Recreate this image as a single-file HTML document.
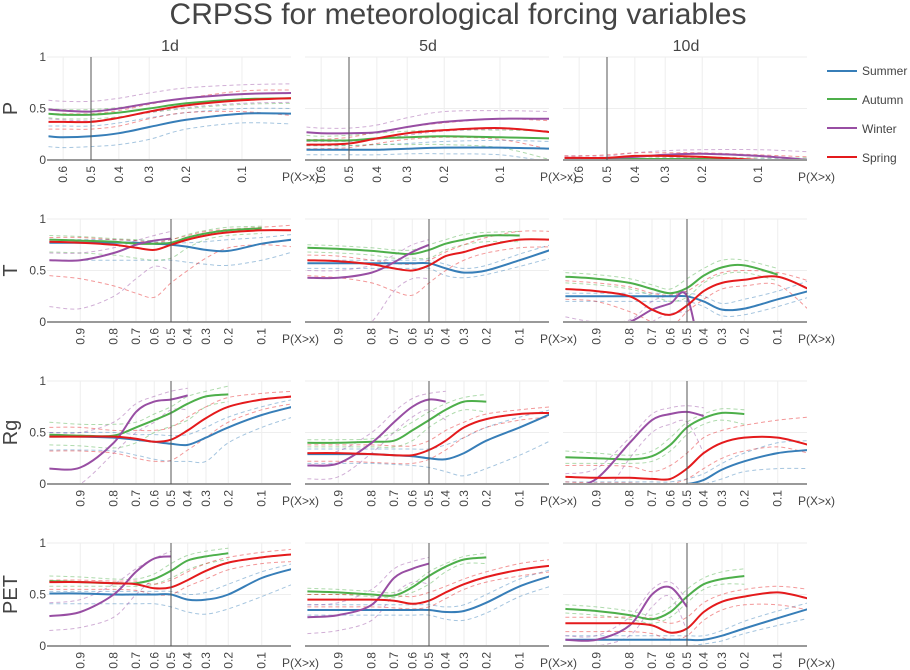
<!DOCTYPE html>
<html><head><meta charset="utf-8"><style>
html,body{margin:0;padding:0;background:#fff;}
svg{display:block;font-family:"Liberation Sans",sans-serif;}
</style></head><body>
<svg id="chart" width="910" height="670" viewBox="0 0 910 670">
<text x="458" y="24" text-anchor="middle" font-size="30" fill="#444">CRPSS for meteorological forcing variables</text>
<g id="panels"></g>
<g>
 <g><line x1="827" y1="71" x2="857" y2="71" stroke="#377eb8" stroke-width="2"/><text x="862" y="75" font-size="12" fill="#444">Summer</text></g>
 <g><line x1="827" y1="99" x2="857" y2="99" stroke="#4daf4a" stroke-width="2"/><text x="862" y="104" font-size="12" fill="#444">Autumn</text></g>
 <g><line x1="827" y1="128" x2="857" y2="128" stroke="#984ea3" stroke-width="2"/><text x="862" y="133" font-size="12" fill="#444">Winter</text></g>
 <g><line x1="827" y1="157" x2="857" y2="157" stroke="#e41a1c" stroke-width="2"/><text x="862" y="162" font-size="12" fill="#444">Spring</text></g>
</g>
</svg>
<script>
// x grids (exceedance probabilities)
const gridP = [0.65,0.6,0.5,0.4,0.3,0.2,0.1,0.05];
const gridG = [0.95,0.9,0.8,0.7,0.6,0.5,0.4,0.3,0.2,0.1,0.05];
const ticksP = [0.6,0.5,0.4,0.3,0.2,0.1];
const ticksG = [0.9,0.8,0.7,0.6,0.5,0.4,0.3,0.2,0.1];
const yTicks = [0,0.5,1];
const rowNames = ["P","T","Rg","PET"];
const colNames = ["1d","5d","10d"];
const N = null;

// P 1d
const P1_sum = [0.23,0.22,0.23,0.26,0.32,0.39,0.45,0.45];
const P1_sum_lo = [0.13,0.12,0.13,0.15,0.2,0.3,0.36,0.35];
const P1_sum_hi = [0.33,0.33,0.33,0.36,0.41,0.46,0.5,0.5];
const P1_aut = [0.45,0.44,0.44,0.46,0.5,0.55,0.59,0.6];
const P1_aut_lo = [0.41,0.4,0.4,0.42,0.46,0.5,0.54,0.55];
const P1_aut_hi = [0.5,0.49,0.49,0.51,0.55,0.6,0.64,0.65];
const P1_win = [0.49,0.48,0.47,0.5,0.55,0.6,0.64,0.65];
const P1_win_lo = [0.4,0.39,0.38,0.41,0.46,0.51,0.55,0.56];
const P1_win_hi = [0.58,0.57,0.57,0.6,0.65,0.7,0.73,0.74];
const P1_spr = [0.37,0.37,0.37,0.41,0.47,0.53,0.58,0.6];
const P1_spr_lo = [0.3,0.3,0.3,0.33,0.4,0.46,0.47,0.43];
const P1_spr_hi = [0.45,0.45,0.45,0.48,0.54,0.6,0.67,0.68];
// P 5d
const P5_sum = [0.1,0.1,0.1,0.1,0.11,0.12,0.12,0.11];
const P5_sum_lo = [0.05,0.05,0.05,0.05,0.06,0.06,0.05,-0.02];
const P5_sum_hi = [0.14,0.14,0.14,0.15,0.16,0.18,0.19,0.18];
const P5_aut = [0.19,0.19,0.19,0.21,0.22,0.23,0.22,0.21];
const P5_aut_lo = [0.14,0.14,0.14,0.15,0.15,0.15,0.12,0.0];
const P5_aut_hi = [0.24,0.23,0.24,0.26,0.28,0.29,0.29,0.28];
const P5_win = [0.27,0.26,0.26,0.27,0.32,0.37,0.4,0.4];
const P5_win_lo = [0.18,0.18,0.18,0.2,0.24,0.28,0.3,0.28];
const P5_win_hi = [0.32,0.31,0.31,0.34,0.41,0.47,0.48,0.47];
const P5_spr = [0.15,0.15,0.16,0.21,0.26,0.29,0.31,0.27];
const P5_spr_lo = [0.11,0.11,0.12,0.16,0.2,0.22,0.2,0.1];
const P5_spr_hi = [0.2,0.2,0.22,0.27,0.32,0.36,0.4,0.38];
// P 10d
const P10_sum = [0.0,0.0,0.0,0.0,0.0,0.0,0.0,0.0];
const P10_sum_lo = [-0.03,-0.03,-0.03,-0.03,-0.03,-0.03,-0.03,-0.03];
const P10_sum_hi = [0.01,0.01,0.01,0.01,0.01,0.01,0.01,0.01];
const P10_aut = [0.01,0.01,0.01,0.01,0.01,0.01,0.0,0.0];
const P10_aut_lo = [-0.02,-0.02,-0.02,-0.02,-0.02,-0.02,-0.03,-0.03];
const P10_aut_hi = [0.02,0.02,0.02,0.03,0.03,0.03,0.02,0.02];
const P10_win = [0.02,0.02,0.02,0.03,0.05,0.06,0.04,0.0];
const P10_win_lo = [0.0,0.0,0.0,0.01,0.02,0.02,0.0,-0.05];
const P10_win_hi = [0.04,0.04,0.04,0.07,0.09,0.1,0.1,0.08];
const P10_spr = [0.02,0.02,0.02,0.04,0.04,0.03,0.0,-0.03];
const P10_spr_lo = [0.0,0.0,0.0,0.01,0.01,0.0,-0.04,-0.08];
const P10_spr_hi = [0.04,0.04,0.05,0.07,0.07,0.07,0.05,0.03];
// T 1d
const T1_sum = [0.77,0.77,0.77,0.77,0.76,0.75,0.73,0.7,0.69,0.76,0.8];
const T1_sum_lo = [0.6,0.6,0.6,0.6,0.6,0.6,0.58,0.56,0.55,0.6,0.68];
const T1_sum_hi = [0.8,0.8,0.8,0.79,0.78,0.77,0.77,0.78,0.8,0.82,0.85];
const T1_aut = [0.8,0.79,0.78,0.76,0.76,0.77,0.82,0.86,0.89,0.91,N];
const T1_aut_lo = [0.68,0.67,0.65,0.62,0.6,0.62,0.72,0.8,0.84,0.86,N];
const T1_aut_hi = [0.84,0.83,0.81,0.8,0.79,0.8,0.85,0.89,0.92,0.93,N];
const T1_win = [0.6,0.6,0.67,0.75,0.79,0.81,N,N,N,N,N];
const T1_win_lo = [0.15,0.13,0.25,0.42,0.54,0.5,N,N,N,N,N];
const T1_win_hi = [0.67,0.67,0.72,0.79,0.84,0.88,N,N,N,N,N];
const T1_spr = [0.78,0.77,0.75,0.72,0.7,0.75,0.8,0.84,0.87,0.89,0.89];
const T1_spr_lo = [0.45,0.42,0.35,0.28,0.24,0.38,0.5,0.62,0.72,0.75,0.73];
const T1_spr_hi = [0.82,0.82,0.8,0.79,0.77,0.8,0.84,0.88,0.9,0.92,0.94];
// T 5d
const T5_sum = [0.57,0.57,0.57,0.57,0.57,0.57,0.52,0.48,0.5,0.6,0.7];
const T5_sum_lo = [0.52,0.52,0.52,0.52,0.52,0.52,0.45,0.43,0.46,0.54,0.62];
const T5_sum_hi = [0.6,0.6,0.6,0.6,0.6,0.6,0.56,0.52,0.55,0.66,0.75];
const T5_aut = [0.72,0.71,0.69,0.67,0.66,0.7,0.76,0.8,0.84,0.84,N];
const T5_aut_lo = [0.68,0.67,0.65,0.62,0.62,0.62,0.7,0.75,0.78,0.78,N];
const T5_aut_hi = [0.75,0.74,0.72,0.7,0.7,0.75,0.8,0.85,0.87,0.88,N];
const T5_win = [0.43,0.43,0.48,0.58,0.68,0.75,N,N,N,N,N];
const T5_win_lo = [-0.5,-0.3,0.0,0.3,0.42,0.42,N,N,N,N,N];
const T5_win_hi = [0.5,0.5,0.55,0.65,0.75,0.8,N,N,N,N,N];
const T5_spr = [0.6,0.59,0.56,0.52,0.5,0.55,0.64,0.68,0.74,0.8,0.8];
const T5_spr_lo = [0.45,0.43,0.38,0.3,0.26,0.38,0.5,0.6,0.67,0.72,0.73];
const T5_spr_hi = [0.65,0.64,0.6,0.57,0.56,0.6,0.68,0.75,0.82,0.88,0.88];
// T 10d
const T10_sum = [0.25,0.25,0.25,0.25,0.25,0.25,0.2,0.12,0.13,0.22,0.3];
const T10_sum_lo = [0.2,0.2,0.2,0.2,0.2,0.2,0.15,0.06,0.07,0.15,0.24];
const T10_sum_hi = [0.28,0.28,0.28,0.28,0.28,0.28,0.25,0.18,0.22,0.3,0.4];
const T10_aut = [0.44,0.42,0.38,0.32,0.28,0.33,0.45,0.53,0.55,0.46,N];
const T10_aut_lo = [0.38,0.36,0.32,0.26,0.2,0.24,0.38,0.46,0.48,0.4,N];
const T10_aut_hi = [0.48,0.46,0.42,0.36,0.32,0.42,0.52,0.6,0.6,0.52,N];
const T10_win = [-0.2,-0.1,0.0,0.12,0.18,0.25,-0.5,N,N,N,N];
const T10_win_lo = [-0.4,-0.3,-0.2,0.0,0.08,0.1,N,N,N,N,N];
const T10_win_hi = [0.05,0.0,0.02,0.2,0.26,0.3,N,N,N,N,N];
const T10_spr = [0.32,0.3,0.25,0.12,0.07,0.16,0.3,0.38,0.41,0.44,0.32];
const T10_spr_lo = [0.22,0.2,0.1,0.0,-0.05,0.1,0.22,0.32,0.35,0.36,0.12];
const T10_spr_hi = [0.4,0.38,0.34,0.28,0.26,0.3,0.4,0.48,0.5,0.48,0.4];
// Rg 1d
const R1_sum = [0.46,0.46,0.45,0.43,0.41,0.39,0.38,0.45,0.55,0.67,0.75];
const R1_sum_lo = [0.33,0.33,0.32,0.28,0.24,0.22,0.22,0.22,0.4,0.55,0.65];
const R1_sum_hi = [0.5,0.5,0.5,0.48,0.48,0.47,0.48,0.55,0.65,0.75,0.82];
const R1_aut = [0.48,0.47,0.47,0.55,0.62,0.69,0.78,0.85,0.87,N,N];
const R1_aut_lo = [0.38,0.37,0.35,0.4,0.5,0.56,0.62,0.75,0.8,N,N];
const R1_aut_hi = [0.6,0.58,0.58,0.6,0.68,0.75,0.85,0.9,0.95,N,N];
const R1_win = [0.15,0.16,0.4,0.7,0.8,0.82,0.86,N,N,N,N];
const R1_win_lo = [-0.1,0.0,0.3,0.5,0.6,0.72,0.72,N,N,N,N];
const R1_win_hi = [0.5,0.5,0.6,0.78,0.85,0.9,0.93,N,N,N,N];
const R1_spr = [0.46,0.46,0.46,0.44,0.41,0.43,0.52,0.64,0.75,0.82,0.85];
const R1_spr_lo = [0.32,0.32,0.3,0.25,0.22,0.23,0.33,0.45,0.6,0.72,0.78];
const R1_spr_hi = [0.55,0.55,0.52,0.52,0.52,0.55,0.65,0.75,0.84,0.88,0.9];
// Rg 5d
const R5_sum = [0.29,0.29,0.29,0.28,0.27,0.25,0.24,0.3,0.42,0.55,0.68];
const R5_sum_lo = [0.2,0.2,0.2,0.19,0.18,0.16,0.12,0.08,0.15,0.28,0.42];
const R5_sum_hi = [0.34,0.34,0.34,0.34,0.34,0.34,0.38,0.45,0.55,0.65,0.72];
const R5_aut = [0.4,0.4,0.41,0.42,0.52,0.62,0.72,0.8,0.8,N,N];
const R5_aut_lo = [0.36,0.36,0.36,0.36,0.42,0.55,0.65,0.72,0.7,N,N];
const R5_aut_hi = [0.43,0.43,0.44,0.5,0.6,0.7,0.78,0.84,0.87,N,N];
const R5_win = [0.18,0.2,0.4,0.6,0.75,0.82,0.8,N,N,N,N];
const R5_win_lo = [0.05,0.07,0.3,0.5,0.65,0.72,0.62,N,N,N,N];
const R5_win_hi = [0.3,0.32,0.5,0.7,0.83,0.88,0.9,N,N,N,N];
const R5_spr = [0.3,0.3,0.29,0.28,0.28,0.33,0.42,0.55,0.63,0.68,0.69];
const R5_spr_lo = [0.22,0.22,0.21,0.2,0.2,0.24,0.33,0.45,0.55,0.62,0.65];
const R5_spr_hi = [0.38,0.38,0.38,0.37,0.37,0.42,0.52,0.6,0.68,0.72,0.75];
// Rg 10d
const R10_sum = [0.0,0.0,0.0,0.0,0.0,0.0,0.04,0.14,0.22,0.3,0.33];
const R10_sum_lo = [-0.02,-0.02,-0.02,-0.02,-0.02,-0.02,0.0,0.05,0.12,0.15,0.15];
const R10_sum_hi = [0.02,0.02,0.02,0.02,0.02,0.05,0.1,0.2,0.3,0.4,0.42];
const R10_aut = [0.26,0.25,0.24,0.27,0.38,0.55,0.64,0.69,0.68,N,N];
const R10_aut_lo = [0.2,0.2,0.2,0.22,0.32,0.48,0.58,0.62,0.58,N,N];
const R10_aut_hi = [0.32,0.3,0.28,0.32,0.45,0.6,0.68,0.73,0.72,N,N];
const R10_win = [-0.05,0.05,0.4,0.62,0.68,0.7,0.66,N,N,N,N];
const R10_win_lo = [-0.3,-0.2,0.25,0.5,0.58,0.6,0.3,N,N,N,N];
const R10_win_hi = [0.1,0.15,0.45,0.68,0.74,0.76,0.74,N,N,N,N];
const R10_spr = [0.07,0.06,0.06,0.05,0.05,0.15,0.3,0.4,0.45,0.45,0.38];
const R10_spr_lo = [0.02,0.01,0.01,0.0,0.0,0.05,0.15,0.25,0.32,0.36,0.3];
const R10_spr_hi = [0.18,0.18,0.17,0.12,0.18,0.3,0.45,0.52,0.57,0.62,0.65];
// PET 1d
const E1_sum = [0.51,0.51,0.5,0.5,0.5,0.5,0.45,0.45,0.5,0.66,0.75];
const E1_sum_lo = [0.41,0.41,0.41,0.41,0.41,0.38,0.33,0.31,0.36,0.48,0.6];
const E1_sum_hi = [0.53,0.53,0.53,0.53,0.53,0.53,0.5,0.52,0.6,0.72,0.8];
const E1_aut = [0.63,0.62,0.61,0.61,0.65,0.73,0.83,0.87,0.9,N,N];
const E1_aut_lo = [0.58,0.58,0.58,0.58,0.6,0.66,0.74,0.8,0.84,N,N];
const E1_aut_hi = [0.68,0.67,0.65,0.65,0.7,0.8,0.88,0.92,0.95,N,N];
const E1_win = [0.29,0.33,0.5,0.72,0.85,0.87,N,N,N,N,N];
const E1_win_lo = [0.15,0.18,0.28,0.5,0.65,0.72,N,N,N,N,N];
const E1_win_hi = [0.42,0.45,0.6,0.75,0.85,0.92,N,N,N,N,N];
const E1_spr = [0.62,0.62,0.61,0.6,0.56,0.57,0.64,0.73,0.81,0.86,0.89];
const E1_spr_lo = [0.55,0.55,0.55,0.54,0.5,0.5,0.58,0.65,0.74,0.8,0.82];
const E1_spr_hi = [0.64,0.64,0.63,0.63,0.6,0.64,0.72,0.8,0.86,0.91,0.94];
// PET 5d
const E5_sum = [0.35,0.35,0.35,0.35,0.35,0.35,0.33,0.34,0.42,0.58,0.68];
const E5_sum_lo = [0.3,0.3,0.3,0.3,0.3,0.3,0.26,0.25,0.32,0.48,0.58];
const E5_sum_hi = [0.4,0.4,0.4,0.4,0.4,0.4,0.38,0.4,0.5,0.65,0.74];
const E5_aut = [0.53,0.52,0.5,0.49,0.57,0.68,0.77,0.84,0.86,N,N];
const E5_aut_lo = [0.5,0.5,0.48,0.47,0.52,0.6,0.72,0.8,0.8,N,N];
const E5_aut_hi = [0.56,0.55,0.53,0.52,0.6,0.72,0.8,0.87,0.9,N,N];
const E5_win = [0.28,0.3,0.4,0.66,0.75,0.8,N,N,N,N,N];
const E5_win_lo = [0.12,0.15,0.25,0.5,0.62,0.6,N,N,N,N,N];
const E5_win_hi = [0.4,0.42,0.55,0.75,0.82,0.86,N,N,N,N,N];
const E5_spr = [0.45,0.45,0.45,0.44,0.41,0.44,0.52,0.6,0.67,0.74,0.78];
const E5_spr_lo = [0.38,0.38,0.38,0.37,0.36,0.38,0.46,0.55,0.62,0.68,0.72];
const E5_spr_hi = [0.5,0.5,0.5,0.49,0.48,0.52,0.58,0.65,0.72,0.8,0.84];
// PET 10d
const E10_sum = [0.06,0.06,0.06,0.06,0.06,0.06,0.06,0.1,0.17,0.27,0.36];
const E10_sum_lo = [0.0,0.0,0.0,0.0,0.0,0.0,0.02,0.05,0.12,0.2,0.27];
const E10_sum_hi = [0.1,0.1,0.1,0.1,0.1,0.1,0.1,0.15,0.24,0.34,0.42];
const E10_aut = [0.36,0.34,0.3,0.26,0.33,0.48,0.6,0.65,0.68,N,N];
const E10_aut_lo = [0.32,0.3,0.26,0.22,0.28,0.42,0.55,0.6,0.6,N,N];
const E10_aut_hi = [0.4,0.38,0.34,0.3,0.38,0.55,0.66,0.72,0.75,N,N];
const E10_win = [0.06,0.06,0.2,0.5,0.57,0.38,N,N,N,N,N];
const E10_win_lo = [0.0,0.0,0.1,0.38,0.48,0.15,N,N,N,N,N];
const E10_win_hi = [0.1,0.1,0.28,0.55,0.62,0.45,N,N,N,N,N];
const E10_spr = [0.22,0.22,0.22,0.2,0.13,0.17,0.33,0.43,0.48,0.52,0.46];
const E10_spr_lo = [0.14,0.14,0.14,0.12,0.06,0.1,0.25,0.35,0.4,0.4,0.35];
const E10_spr_hi = [0.28,0.28,0.28,0.27,0.22,0.28,0.42,0.5,0.55,0.58,0.55];

const COLORS = {sum:"#377eb8",aut:"#4daf4a",win:"#984ea3",spr:"#e41a1c"};
const NAMES = {sum:"summer",aut:"autumn",win:"winter",spr:"spring"};
const panels = [
 [{sum:[P1_sum,P1_sum_lo,P1_sum_hi],aut:[P1_aut,P1_aut_lo,P1_aut_hi],win:[P1_win,P1_win_lo,P1_win_hi],spr:[P1_spr,P1_spr_lo,P1_spr_hi]},
  {sum:[P5_sum,P5_sum_lo,P5_sum_hi],aut:[P5_aut,P5_aut_lo,P5_aut_hi],win:[P5_win,P5_win_lo,P5_win_hi],spr:[P5_spr,P5_spr_lo,P5_spr_hi]},
  {sum:[P10_sum,P10_sum_lo,P10_sum_hi],aut:[P10_aut,P10_aut_lo,P10_aut_hi],win:[P10_win,P10_win_lo,P10_win_hi],spr:[P10_spr,P10_spr_lo,P10_spr_hi]}],
 [{sum:[T1_sum,T1_sum_lo,T1_sum_hi],aut:[T1_aut,T1_aut_lo,T1_aut_hi],win:[T1_win,T1_win_lo,T1_win_hi],spr:[T1_spr,T1_spr_lo,T1_spr_hi]},
  {sum:[T5_sum,T5_sum_lo,T5_sum_hi],aut:[T5_aut,T5_aut_lo,T5_aut_hi],win:[T5_win,T5_win_lo,T5_win_hi],spr:[T5_spr,T5_spr_lo,T5_spr_hi]},
  {sum:[T10_sum,T10_sum_lo,T10_sum_hi],aut:[T10_aut,T10_aut_lo,T10_aut_hi],win:[T10_win,T10_win_lo,T10_win_hi],spr:[T10_spr,T10_spr_lo,T10_spr_hi]}],
 [{sum:[R1_sum,R1_sum_lo,R1_sum_hi],aut:[R1_aut,R1_aut_lo,R1_aut_hi],win:[R1_win,R1_win_lo,R1_win_hi],spr:[R1_spr,R1_spr_lo,R1_spr_hi]},
  {sum:[R5_sum,R5_sum_lo,R5_sum_hi],aut:[R5_aut,R5_aut_lo,R5_aut_hi],win:[R5_win,R5_win_lo,R5_win_hi],spr:[R5_spr,R5_spr_lo,R5_spr_hi]},
  {sum:[R10_sum,R10_sum_lo,R10_sum_hi],aut:[R10_aut,R10_aut_lo,R10_aut_hi],win:[R10_win,R10_win_lo,R10_win_hi],spr:[R10_spr,R10_spr_lo,R10_spr_hi]}],
 [{sum:[E1_sum,E1_sum_lo,E1_sum_hi],aut:[E1_aut,E1_aut_lo,E1_aut_hi],win:[E1_win,E1_win_lo,E1_win_hi],spr:[E1_spr,E1_spr_lo,E1_spr_hi]},
  {sum:[E5_sum,E5_sum_lo,E5_sum_hi],aut:[E5_aut,E5_aut_lo,E5_aut_hi],win:[E5_win,E5_win_lo,E5_win_hi],spr:[E5_spr,E5_spr_lo,E5_spr_hi]},
  {sum:[E10_sum,E10_sum_lo,E10_sum_hi],aut:[E10_aut,E10_aut_lo,E10_aut_hi],win:[E10_win,E10_win_lo,E10_win_hi],spr:[E10_spr,E10_spr_lo,E10_spr_hi]}]
];

const NS = "http://www.w3.org/2000/svg";
const root = document.getElementById("panels");
const COLX = [47,305,563], ROWY = [57,219,381,543], W = 244, H = 103;
function mk(tag, attrs, parent){const e=document.createElementNS(NS,tag);for(const k in attrs)e.setAttribute(k,attrs[k]);parent.appendChild(e);return e;}
function L(p){return Math.log((1-p)/p);}
function xScale(r,c,p){return r===0 ? COLX[c]+44+68.7*L(p) : COLX[c]+124+41.3*L(p);}
function yScale(r,v){return ROWY[r]+H*(1-v);}
function smoothPath(pts){
  if(pts.length<2) return "";
  let d="M"+pts[0][0].toFixed(1)+","+pts[0][1].toFixed(1);
  for(let i=0;i<pts.length-1;i++){
    const p0=pts[Math.max(0,i-1)],p1=pts[i],p2=pts[i+1],p3=pts[Math.min(pts.length-1,i+2)];
    const t=1/6;
    const c1=[p1[0]+(p2[0]-p0[0])*t,p1[1]+(p2[1]-p0[1])*t];
    const c2=[p2[0]-(p3[0]-p1[0])*t,p2[1]-(p3[1]-p1[1])*t];
    d+="C"+c1[0].toFixed(1)+","+c1[1].toFixed(1)+" "+c2[0].toFixed(1)+","+c2[1].toFixed(1)+" "+p2[0].toFixed(1)+","+p2[1].toFixed(1);
  }
  return d;
}
function seriesPath(r,c,vals,grid){
  const pts=[];
  vals.forEach((v,i)=>{ if(v!==null) pts.push([xScale(r,c,grid[i]),yScale(r,v)]); });
  return smoothPath(pts);
}

colNames.forEach((n,c)=>{
  const t=mk("text",{x:COLX[c]+123,y:51,"text-anchor":"middle","font-size":16,fill:"#444"},root);
  t.textContent=n;
  
  
});
rowNames.forEach((n,r)=>{
  const cy=ROWY[r]+H/2;
  const t=mk("text",{x:17,y:cy,"text-anchor":"middle","font-size":20,fill:"#444",transform:"rotate(-90 17 "+cy+")"},root);
  t.textContent=n;
  
  
});

for(let r=0;r<4;r++){
  for(let c=0;c<3;c++){
    const g=mk("g",{},root);
    
    
    const x0=COLX[c], y0=ROWY[r];
    const grid = r===0?gridP:gridG;
    const ticks = r===0?ticksP:ticksG;
    const cid="clip"+r+"_"+c;
    const cp=mk("clipPath",{id:cid},g);
    mk("rect",{x:x0,y:y0-2,width:W,height:H+2},cp);
    ticks.forEach(p=>{
      const x=xScale(r,c,p);
      mk("line",{x1:x,y1:y0,x2:x,y2:y0+H,stroke:"#eee","stroke-width":1},g);
      const ty=y0+H+6;
      const t=mk("text",{x:x+4,y:ty,"text-anchor":"end","font-size":12,fill:"#444",transform:"rotate(-90 "+(x+4)+" "+ty+")"},g);
      t.textContent=String(p);
      
      
    });
    yTicks.forEach(v=>{
      const y=yScale(r,v);
      if(v>0) mk("line",{x1:x0,y1:y,x2:x0+W,y2:y,stroke:"#eee","stroke-width":1},g);
      if(c===0){
        const t=mk("text",{x:x0-1,y:y+4,"text-anchor":"end","font-size":12,fill:"#444"},g);
        t.textContent=String(v);
        
        
      }
    });
    const xl=mk("text",{x:x0+235,y:y0+H+21,"font-size":12,fill:"#444"},g);
    xl.textContent="P(X>x)";
    
    
    const lines=mk("g",{"clip-path":"url(#"+cid+")"},g);
    const pdata=panels[r][c];
    ["sum","aut","win","spr"].forEach(k=>{
      const [m,lo,hi]=pdata[k];
      [lo,hi].forEach((arr,j)=>{
        const p=mk("path",{d:seriesPath(r,c,arr,grid),fill:"none",stroke:COLORS[k],"stroke-width":1,"stroke-dasharray":"4,3",opacity:0.45},lines);
        
        
      });
    });
    ["sum","aut","win","spr"].forEach(k=>{
      const p=mk("path",{d:seriesPath(r,c,pdata[k][0],grid),fill:"none",stroke:COLORS[k],"stroke-width":2},lines);
      
      
    });
    mk("line",{x1:x0,y1:y0+H,x2:x0+W,y2:y0+H,stroke:"#999","stroke-width":2},g);
    const xm=xScale(r,c,0.5);
    const vm=mk("line",{x1:xm,y1:y0,x2:xm,y2:y0+H,stroke:"#555","stroke-width":1},g);
    
    
  }
}
</script>
</body></html>
